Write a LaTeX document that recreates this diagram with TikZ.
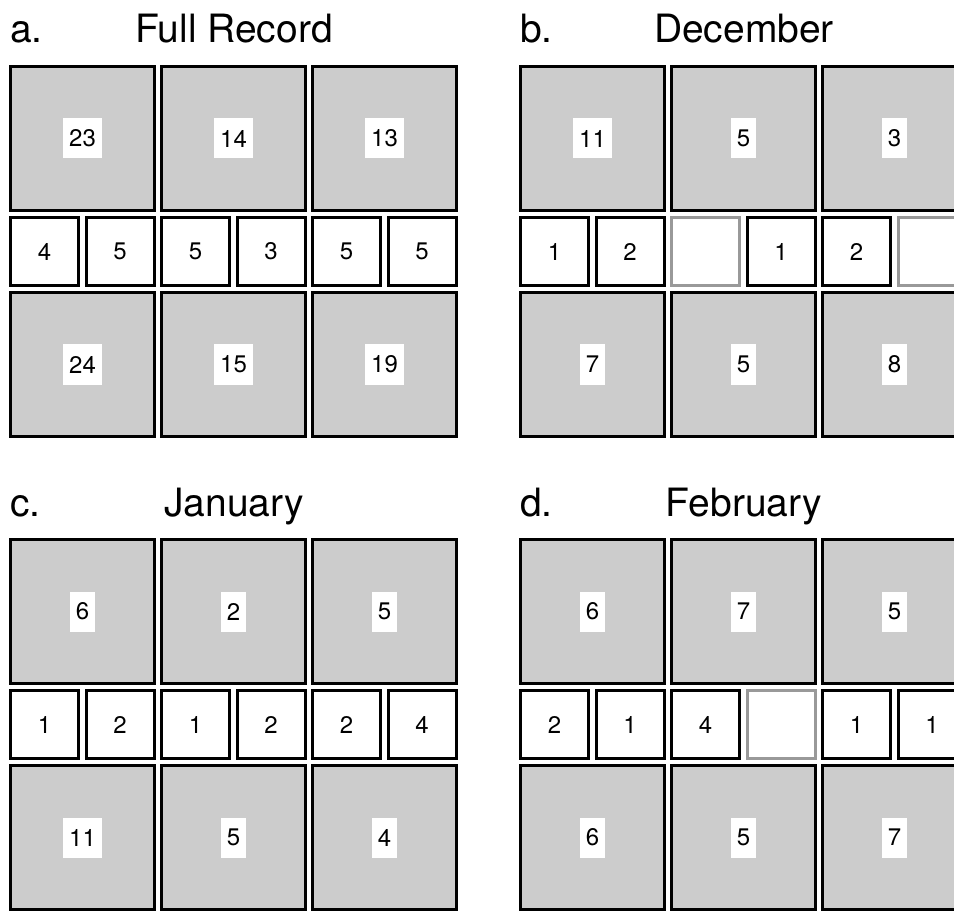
\documentclass[tikz,border=0pt]{standalone}
\usepackage{fontspec}
\setmainfont{TeX Gyre Heros}

\tikzset{
  bigbox/.style={draw=black, line width=3pt, fill=black!20, minimum size=144pt, inner sep=0pt},
  smallbox/.style={draw=#1, line width=3pt, fill=white, minimum size=68pt, inner sep=0pt,
    font=\fontsize{24}{24}\selectfont},
  numlabel/.style={fill=white, inner xsep=6.2pt, inner ysep=0pt, minimum height=40pt,
    font=\fontsize{24}{24}\selectfont},
  paneltag/.style={anchor=base west, inner sep=0pt, font=\fontsize{39}{39}\selectfont},
  paneltitle/.style={anchor=base, inner sep=0pt, font=\fontsize{39}{39}\selectfont},
}

% #1 name, #2 dx, #3 dy, #4 tag, #5 title, #6 top row, #7 middle row, #8 bottom row
\newcommand{\drawpanel}[8]{%
  \begin{scope}[shift={(#2,#3)}]
    \node[paneltag] (#1-tag) at (10,43) {#4.};
    \node[paneltitle] (#1-title) at (234,43) {#5};
    % top row of big boxes
    \foreach \v [count=\i from 0] in {#6} {
      \node[bigbox] (#1-top-\i) at ({82.5+151*\i},138.5) {};
      \node[numlabel] (#1-topn-\i) at (#1-top-\i) {\v};
    }
    % middle row of small boxes
    \foreach \v/\c [count=\j from 0] in {#7} {
      \node[smallbox=\c] (#1-mid-\j) at ({44.5+75.5*\j},251.5) {\v};
    }
    % bottom row of big boxes
    \foreach \v [count=\i from 0] in {#8} {
      \node[bigbox] (#1-bot-\i) at ({82.5+151*\i},364.5) {};
      \node[numlabel] (#1-botn-\i) at (#1-bot-\i) {\v};
    }
  \end{scope}
}

\begin{document}
\begin{tikzpicture}[x=1pt, y=-1pt]
  \clip (0,0) rectangle (954,912);
  \fill[white] (0,0) rectangle (954,912);

  % a. full record
  \drawpanel{full}{0}{0}{a}{Full Record}{23,14,13}
    {4/black,5/black,5/black,3/black,5/black,5/black}{24,15,19}
  % b. december
  \drawpanel{dec}{510}{0}{b}{December}{11,5,3}
    {1/black,2/black,{}/black!40,1/black,2/black,{}/black!40}{7,5,8}
  % c. january
  \drawpanel{jan}{0}{473}{c}{January}{6,2,5}
    {1/black,2/black,1/black,2/black,2/black,4/black}{11,5,4}
  % d. february
  \drawpanel{feb}{510}{473}{d}{February}{6,7,5}
    {2/black,1/black,4/black,{}/black!40,1/black,1/black}{6,5,7}
\end{tikzpicture}
\end{document}
